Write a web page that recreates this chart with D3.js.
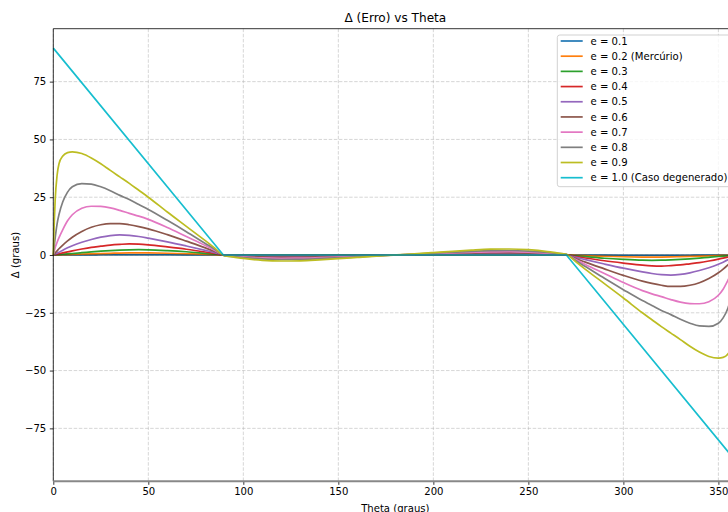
<!DOCTYPE html>
<html>
<head>
<meta charset="utf-8">
<script src="https://cdn.jsdelivr.net/npm/d3@7"></script>
<style>
  body { margin: 0; background: #fff; }
  svg { display: block; font-family: "DejaVu Sans", sans-serif; }
</style>
</head>
<body>
<svg id="chart" width="728" height="512"></svg>
<script>
// theta samples (graus) shared by the e = 0.1 ... 0.9 curves
var theta = [0, 0.5, 1, 2, 3, 5, 7.5, 10, 15, 20, 25, 30, 35, 40, 45, 50, 60, 70, 80, 85,
  90, 95, 100, 110, 120, 130, 140, 150, 160, 170, 180,
  190, 200, 210, 220, 230, 240, 250, 260, 265, 270, 275, 280, 290, 300, 310, 315, 320,
  325, 330, 335, 340, 345, 350, 352.5, 355, 357, 358, 359, 359.5, 360];

var delta01 = [0, 0, 0, 0.01, 0.01, 0.02, 0.03, 0.04, 0.06, 0.08, 0.1, 0.12, 0.13, 0.14, 0.14, 0.14, 0.12, 0.09, 0.05, 0.02,
  0, 0, 0, 0, 0, 0, 0, 0, 0, 0, 0,
  0, 0, 0, 0, 0, 0, 0, 0, 0, 0, -0.02, -0.05, -0.09, -0.12, -0.14, -0.14, -0.14,
  -0.13, -0.12, -0.1, -0.08, -0.06, -0.04, -0.03, -0.02, -0.01, -0.01, 0, 0, 0];
var delta02 = [0, 0.01, 0.02, 0.04, 0.07, 0.11, 0.17, 0.22, 0.35, 0.5, 0.62, 0.73, 0.82, 0.88, 0.9, 0.88, 0.75, 0.55, 0.3, 0.15,
  0, -0.01, -0.02, -0.03, -0.04, -0.04, -0.03, -0.03, -0.02, -0.01, 0,
  0.01, 0.02, 0.03, 0.03, 0.04, 0.04, 0.03, 0.02, 0.01, 0, -0.15, -0.3, -0.55, -0.75, -0.88, -0.9, -0.88,
  -0.82, -0.73, -0.62, -0.5, -0.35, -0.22, -0.17, -0.11, -0.07, -0.04, -0.02, -0.01, 0];
var delta03 = [0, 0.03, 0.07, 0.14, 0.2, 0.34, 0.5, 0.66, 1.0, 1.35, 1.65, 1.9, 2.1, 2.25, 2.3, 2.25, 1.9, 1.4, 0.7, 0.35,
  0, -0.04, -0.06, -0.1, -0.12, -0.12, -0.1, -0.08, -0.05, -0.02, 0,
  0.02, 0.05, 0.08, 0.1, 0.12, 0.12, 0.1, 0.06, 0.04, 0, -0.35, -0.7, -1.4, -1.9, -2.25, -2.3, -2.25,
  -2.1, -1.9, -1.65, -1.35, -1.0, -0.66, -0.5, -0.34, -0.2, -0.14, -0.07, -0.03, 0];
var delta04 = [0, 0.09, 0.18, 0.36, 0.54, 0.9, 1.35, 1.8, 2.6, 3.3, 3.8, 4.3, 4.6, 4.8, 4.7, 4.4, 3.5, 2.5, 1.3, 0.65,
  -0.05, -0.1, -0.15, -0.25, -0.28, -0.28, -0.25, -0.2, -0.13, -0.06, 0,
  0.06, 0.13, 0.2, 0.25, 0.28, 0.28, 0.25, 0.15, 0.1, 0.05, -0.65, -1.3, -2.5, -3.5, -4.4, -4.7, -4.8,
  -4.6, -4.3, -3.8, -3.3, -2.6, -1.8, -1.35, -0.9, -0.54, -0.36, -0.18, -0.09, 0];
var delta05 = [0, 0.2, 0.4, 0.8, 1.2, 2.1, 3.1, 4.0, 5.5, 6.7, 7.7, 8.4, 8.7, 8.5, 8.0, 7.3, 5.7, 3.9, 2.0, 1.0,
  -0.1, -0.2, -0.3, -0.5, -0.55, -0.55, -0.5, -0.4, -0.25, -0.12, 0,
  0.12, 0.25, 0.4, 0.5, 0.55, 0.55, 0.5, 0.3, 0.2, 0.1, -1.0, -2.0, -3.9, -5.7, -7.3, -8.0, -8.5,
  -8.7, -8.4, -7.7, -6.7, -5.5, -4.0, -3.1, -2.1, -1.2, -0.8, -0.4, -0.2, 0];
var delta06 = [0, 0.45, 0.9, 1.8, 2.7, 4.3, 6.1, 7.7, 10.2, 12.0, 13.1, 13.6, 13.6, 13.1, 12.3, 11.3, 8.8, 6.0, 3.1, 1.5,
  -0.15, -0.35, -0.55, -0.85, -0.95, -0.9, -0.8, -0.6, -0.4, -0.2, 0,
  0.2, 0.4, 0.6, 0.8, 0.9, 0.95, 0.85, 0.55, 0.35, 0.15, -1.5, -3.1, -6.0, -8.8, -11.3, -12.3, -13.1,
  -13.6, -13.6, -13.1, -12.0, -10.2, -7.7, -6.1, -4.3, -2.7, -1.8, -0.9, -0.45, 0];
var delta07 = [0, 1.6, 3.2, 5.5, 7.5, 11.0, 14.8, 17.4, 20.2, 21.1, 21.0, 20.4, 19.3, 18.0, 16.8, 15.4, 11.9, 8.0, 4.1, 2.0,
  -0.2, -0.5, -0.8, -1.25, -1.4, -1.35, -1.15, -0.9, -0.6, -0.3, 0,
  0.3, 0.6, 0.9, 1.15, 1.35, 1.4, 1.25, 0.8, 0.5, 0.2, -2.0, -4.1, -8.0, -11.9, -15.4, -16.8, -18.0,
  -19.3, -20.4, -21.0, -21.1, -20.2, -17.4, -14.8, -11.0, -7.5, -5.5, -3.2, -1.6, 0];
var delta08 = [0, 4, 7.5, 13.5, 17.5, 23, 27.2, 29.5, 30.9, 30.7, 29.5, 27.8, 25.8, 24.0, 21.8, 19.7, 15.0, 10.1, 5.0, 2.5,
  -0.25, -0.7, -1.1, -1.7, -1.95, -1.9, -1.6, -1.2, -0.8, -0.4, 0,
  0.4, 0.8, 1.2, 1.6, 1.9, 1.95, 1.7, 1.1, 0.7, 0.25, -2.5, -5.0, -10.1, -15.0, -19.7, -21.8, -24.0,
  -25.8, -27.8, -29.5, -30.7, -30.9, -29.5, -27.2, -23, -17.5, -13.5, -7.5, -4, 0];
var delta09 = [0, 14, 24, 34.5, 39.5, 42.8, 44.3, 44.6, 43.9, 42, 39.5, 36.6, 33.8, 31, 28, 25, 18.6, 12.4, 6.2, 3.0,
  -0.3, -0.9, -1.5, -2.3, -2.6, -2.5, -2.1, -1.6, -1.05, -0.5, 0,
  0.5, 1.05, 1.6, 2.1, 2.5, 2.6, 2.3, 1.5, 0.9, 0.3, -3.0, -6.2, -12.4, -18.6, -25, -28, -31,
  -33.8, -36.6, -39.5, -42, -43.9, -44.6, -44.3, -42.8, -39.5, -34.5, -24, -14, 0];

// e = 1.0 is piecewise straight
var thetaDegenerate = [0, 89.5, 270, 360];
var delta10 = [89.5, 0, 0, -90];

var labels = ["e = 0.1", "e = 0.2 (Mercúrio)", "e = 0.3", "e = 0.4", "e = 0.5",
  "e = 0.6", "e = 0.7", "e = 0.8", "e = 0.9", "e = 1.0 (Caso degenerado)"];
var colors = ["#1f77b4", "#ff7f0e", "#2ca02c", "#d62728", "#9467bd",
  "#8c564b", "#e377c2", "#7f7f7f", "#bcbd22", "#17becf"];

var xTicks = [0, 50, 100, 150, 200, 250, 300, 350];
var yTicks = [-75, -50, -25, 0, 25, 50, 75];

var seriesValues = [delta01, delta02, delta03, delta04, delta05,
  delta06, delta07, delta08, delta09, delta10];

var svg = d3.select("#chart");

var plotLeft = 53.3, plotRight = 737.4, plotTop = 28.7, plotBottom = 481.3;

var x = d3.scaleLinear().domain([0, 360]).range([plotLeft, plotRight]);
var y = d3.scaleLinear().domain([-97.9, 97.9]).range([plotBottom, plotTop]);

// grid
var grid = svg.append("g");
grid.selectAll("line.vgrid")
  .data(xTicks)
  .enter()
  .append("line")
  .attr("x1", function(d) { return x(d); })
  .attr("x2", function(d) { return x(d); })
  .attr("y1", plotTop)
  .attr("y2", plotBottom)
  .attr("stroke", "#b0b0b0")
  .attr("stroke-opacity", 0.65)
  .attr("stroke-width", 0.8)
  .attr("stroke-dasharray", "3.5,1.6");
grid.selectAll("line.hgrid")
  .data(yTicks)
  .enter()
  .append("line")
  .attr("x1", plotLeft)
  .attr("x2", plotRight)
  .attr("y1", function(d) { return y(d); })
  .attr("y2", function(d) { return y(d); })
  .attr("stroke", "#b0b0b0")
  .attr("stroke-opacity", 0.65)
  .attr("stroke-width", 0.8)
  .attr("stroke-dasharray", "3.5,1.6");

// curves
var smoothLine = d3.line()
  .x(function(d) { return x(d[0]); })
  .y(function(d) { return y(d[1]); })
  .curve(d3.curveMonotoneX);

var straightLine = d3.line()
  .x(function(d) { return x(d[0]); })
  .y(function(d) { return y(d[1]); });

var plot = svg.append("g");
seriesValues.forEach(function(values, i) {
  var xs = i === 9 ? thetaDegenerate : theta;
  var points = xs.map(function(t, j) { return [t, values[j]]; });
  plot.append("path")
    .datum(points)
    .attr("d", i === 9 ? straightLine : smoothLine)
    .attr("fill", "none")
    .attr("stroke", colors[i])
    .attr("stroke-width", 1.7);
});

// zero reference line
svg.append("line")
  .attr("x1", plotLeft)
  .attr("x2", plotRight)
  .attr("y1", y(0))
  .attr("y2", y(0))
  .attr("stroke", "#000")
  .attr("stroke-opacity", 0.5)
  .attr("stroke-width", 0.9);

// axes
var xAxis = d3.axisBottom(x)
  .tickValues(xTicks)
  .tickSize(3.5)
  .tickPadding(3.5)
  .tickFormat(d3.format("d"));
var yAxis = d3.axisLeft(y)
  .tickValues(yTicks)
  .tickSize(3.5)
  .tickPadding(3.5)
  .tickFormat(function(d) { return d < 0 ? "\u2212" + Math.abs(d) : String(d); });

var gx = svg.append("g")
  .attr("transform", "translate(0," + plotBottom + ")")
  .call(xAxis);
var gy = svg.append("g")
  .attr("transform", "translate(" + plotLeft + ",0)")
  .call(yAxis);

[gx, gy].forEach(function(g) {
  g.select(".domain").remove();
  g.selectAll(".tick line").attr("stroke", "#000").attr("stroke-width", 0.8);
  g.selectAll(".tick text")
    .attr("fill", "#000")
    .style("font-size", "10.1px")
    .style("font-family", "DejaVu Sans");
});

// spines
svg.append("line")
  .attr("x1", plotLeft).attr("x2", plotLeft)
  .attr("y1", plotTop).attr("y2", plotBottom)
  .attr("stroke", "#000").attr("stroke-width", 0.8);
svg.append("line")
  .attr("x1", plotLeft).attr("x2", plotRight)
  .attr("y1", plotTop).attr("y2", plotTop)
  .attr("stroke", "#000").attr("stroke-width", 0.8);
svg.append("line")
  .attr("x1", plotLeft).attr("x2", plotRight)
  .attr("y1", plotBottom).attr("y2", plotBottom)
  .attr("stroke", "#888").attr("stroke-width", 2);

// titles
svg.append("text")
  .attr("x", (plotLeft + plotRight) / 2)
  .attr("y", 22)
  .attr("text-anchor", "middle")
  .style("font-size", "12.1px")
  .text("Δ (Erro) vs Theta");

svg.append("text")
  .attr("x", (plotLeft + plotRight) / 2)
  .attr("y", 511.5)
  .attr("text-anchor", "middle")
  .style("font-size", "10.1px")
  .text("Theta (graus)");

svg.append("text")
  .attr("transform", "translate(18.5," + (plotTop + plotBottom) / 2 + ") rotate(-90)")
  .attr("text-anchor", "middle")
  .style("font-size", "10.1px")
  .text("Δ (graus)");

// legend
var legend = svg.append("g");
legend.append("rect")
  .attr("x", 557.3)
  .attr("y", 35)
  .attr("width", 175)
  .attr("height", 151.7)
  .attr("rx", 2.5)
  .attr("fill", "#fff")
  .attr("fill-opacity", 0.8)
  .attr("stroke", "#cccccc")
  .attr("stroke-width", 0.9);

var rowY = d3.scaleLinear().domain([0, 9]).range([41, 177.7]);
var rows = legend.selectAll("g.row")
  .data(labels)
  .enter()
  .append("g");
rows.append("line")
  .attr("x1", 560.7)
  .attr("x2", 582.7)
  .attr("y1", function(d, i) { return rowY(i); })
  .attr("y2", function(d, i) { return rowY(i); })
  .attr("stroke", function(d, i) { return colors[i]; })
  .attr("stroke-width", 1.7);
rows.append("text")
  .attr("x", 590.5)
  .attr("y", function(d, i) { return rowY(i) + 3.7; })
  .style("font-size", "10.1px")
  .text(function(d) { return d; });
</script>
</body>
</html>
